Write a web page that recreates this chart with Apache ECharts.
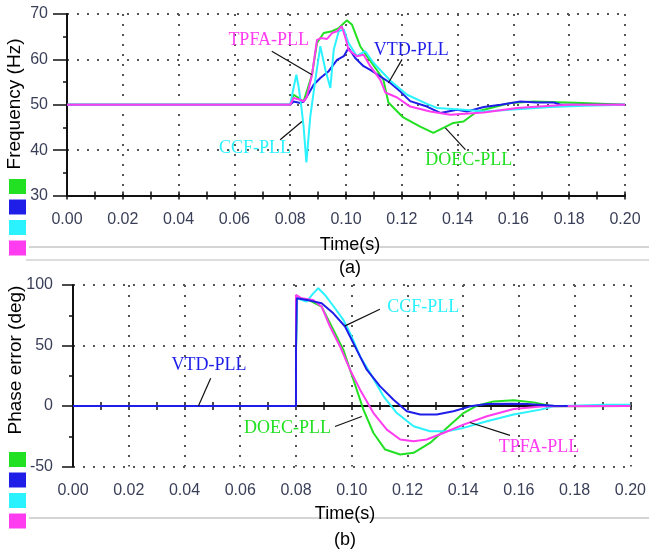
<!DOCTYPE html>
<html>
<head>
<meta charset="utf-8">
<script src="https://cdn.jsdelivr.net/npm/echarts@6/dist/echarts.min.js"></script>
<style>
  html, body { margin: 0; padding: 0; background: #fff; }
  #chart { width: 649px; height: 550px; }
</style>
</head>
<body>
<div id="chart"></div>
<script>
// series names / colours (same four PLLs in both plots)
var names  = ['DOEC-PLL', 'VTD-PLL', 'CCF-PLL', 'TPFA-PLL'];
var colors = ['#22e022', '#1e1ee8', '#2af2ff', '#ff3cf0'];

// (a) frequency, Hz  -- [time s, value]
var freqDOEC = [[0,50],[0.08,50],[0.0812,52.2],[0.083,51.5],[0.0848,50.7],[0.0878,56.6],[0.0896,63.6],
  [0.092,65.8],[0.095,66.2],[0.0974,66.9],[0.1003,68.6],[0.1021,67.7],[0.1051,62.9],[0.1075,60.7],
  [0.1111,57.6],[0.1134,55.5],[0.1152,50.5],[0.1205,47.2],[0.1266,45.2],[0.1313,43.8],[0.1349,44.9],
  [0.1385,46.0],[0.1421,46.3],[0.147,48.5],[0.1518,49.3],[0.159,50.4],[0.1673,50.7],[0.1793,50.5],
  [0.1847,50.4],[0.2,50]];
var freqVTD = [[0,50],[0.08,50],[0.0812,50.7],[0.0836,50.4],[0.0848,50.7],[0.086,51.8],[0.0884,54.4],
  [0.0908,55.9],[0.0938,57.4],[0.0968,59.9],[0.0992,60.7],[0.1009,62.5],[0.1033,60.3],[0.1063,58.5],
  [0.1087,57.7],[0.1159,54.8],[0.1195,52.9],[0.123,50.8],[0.129,49.6],[0.1338,48.2],[0.1398,48.9],
  [0.1434,48.5],[0.1494,49.5],[0.1554,50.0],[0.1625,50.7],[0.1685,50.5],[0.1745,50.5],[0.1769,50],[0.2,50]];
var freqCCF = [[0,50],[0.08,50],[0.0812,53.7],[0.0822,56.6],[0.083,54.0],[0.084,49.6],[0.0848,45.2],
  [0.0858,37.3],[0.0872,47.4],[0.089,55.5],[0.0908,62.9],[0.0926,57.7],[0.0944,53.7],[0.0956,62.1],
  [0.0974,66.2],[0.0992,66.6],[0.1009,63.6],[0.1039,60.7],[0.1069,61.8],[0.1099,59.2],[0.1159,55.3],
  [0.1219,52.2],[0.129,50.2],[0.1326,49.3],[0.1422,48.9],[0.1494,48.5],[0.1613,49.0],[0.1733,49.5],
  [0.1853,49.8],[0.2,50]];
var freqTPFA = [[0,50],[0.08,50],[0.0812,51.5],[0.0836,51.1],[0.0848,50.7],[0.086,51.8],[0.0878,56.6],
  [0.0896,64.3],[0.091,64.7],[0.0932,64.5],[0.095,65.8],[0.0968,66.2],[0.0985,67.3],[0.1,64.3],
  [0.1009,62.1],[0.1039,60.7],[0.1063,61.0],[0.1087,58.5],[0.1123,55.5],[0.1141,52.7],[0.1183,51.6],
  [0.123,49.6],[0.1302,48.5],[0.1374,47.8],[0.1494,48.3],[0.1613,49.3],[0.1733,49.8],[0.18,50],[0.2,50]];

// (b) phase error, deg
var phaseDOEC = [[0,0],[0.08,0],[0.08,45],[0.0803,89],[0.085,87.1],[0.0892,82.1],[0.0928,65.7],
  [0.097,46.4],[0.1006,21.7],[0.1042,-3.0],[0.1078,-22.3],[0.112,-36.0],[0.1174,-40.1],[0.1222,-38.7],
  [0.1281,-30.5],[0.1341,-18.1],[0.1401,-5.8],[0.1449,0.3],[0.1509,3.8],[0.1581,4.7],[0.1653,3.0],
  [0.1725,-0.3],[0.2,0]];
var phaseVTD = [[0,0],[0.08,0],[0.08,45],[0.0803,89],[0.0808,89],[0.085,87.1],[0.0892,84.9],
  [0.0934,76.6],[0.0976,65.7],[0.1018,46.4],[0.1054,30.0],[0.1102,16.2],[0.115,5.2],[0.1198,-4.4],
  [0.1246,-7.1],[0.1305,-7.1],[0.1365,-4.4],[0.1425,-0.3],[0.1485,1.6],[0.1569,1.9],[0.1629,1.6],
  [0.1725,0.3],[0.1775,0]];
var phaseCCF = [[0,0],[0.08,0],[0.08,45],[0.0803,89],[0.0814,88.2],[0.0838,86.3],[0.0862,93.1],
  [0.088,97.3],[0.0904,91.8],[0.094,80.8],[0.097,71.2],[0.1,57.4],[0.103,40.9],[0.1066,27.2],
  [0.1114,8.0],[0.1162,-5.8],[0.1222,-16.8],[0.1281,-20.9],[0.1341,-20.9],[0.1401,-18.1],
  [0.1485,-12.6],[0.1581,-7.1],[0.1677,-3.0],[0.1725,-0.3],[0.1904,1.0],[0.2,1.0]];
var phaseTPFA = [[0,0],[0.08,0],[0.08,91.8],[0.082,89],[0.0862,87.6],[0.0892,82.1],[0.0922,65.7],
  [0.0958,49.2],[0.0994,30.0],[0.103,13.5],[0.1078,-5.8],[0.1126,-19.5],[0.1174,-27.7],[0.1222,-29.1],
  [0.1269,-27.7],[0.1329,-22.3],[0.1401,-15.4],[0.1485,-8.5],[0.1581,-2.5],[0.1689,-0.3],[0.2,0]];

// callouts: label centre and leader line, in data units
var freqNotes = {
  'DOEC-PLL': {at: [0.1440, 37.7], from: [0.1428, 40.1], to: [0.1356, 44.9]},
  'VTD-PLL':  {at: [0.1234, 61.9], from: [0.1201, 60.0], to: [0.1152, 54.8]},
  'CCF-PLL':  {at: [0.0674, 40.3], from: [0.0764, 42.3], to: [0.0842, 46.3]},
  'TPFA-PLL': {at: [0.0723, 64.2], from: [0.0734, 61.8], to: [0.0878, 56.6]}
};
var phaseNotes = {
  'DOEC-PLL': {at: [0.0770, -18.8], from: [0.0940, -16.9], to: [0.1036, -8.7]},
  'VTD-PLL':  {at: [0.0488, 34.0],  from: [0.0494, 23.0],  to: [0.0450, 0]},
  'CCF-PLL':  {at: [0.1257, 81.4],  from: [0.1101, 79.9],  to: [0.0976, 66.2]},
  'TPFA-PLL': {at: [0.1672, -34.1], from: [0.1568, -24.3], to: [0.1424, -13.6]}
};

var tickFont = {color: '#3a3f58', fontSize: 16, fontFamily: 'Liberation Sans, Arial, sans-serif'};
var dots = {color: '#555', width: 2, type: [2, 8]};
var tickLine = {color: '#111', width: 1.5};

function xAxes(gridIndex) {
  var base = {
    type: 'value', gridIndex: gridIndex, min: 0, max: 0.2, interval: 0.02, position: 'bottom'
  };
  return [
    Object.assign({}, base, {
      axisLine: {lineStyle: {color: '#111', width: 2}},
      axisTick: {length: 4, lineStyle: tickLine},
      minorTick: {show: true, splitNumber: 2, length: 4, lineStyle: tickLine},
      axisLabel: Object.assign({margin: 16, formatter: function(v) { return v.toFixed(2); }}, tickFont),
      splitLine: {show: true, lineStyle: dots}
    }),
    Object.assign({}, base, {
      axisLine: {show: false},
      axisTick: {inside: true, length: 4, lineStyle: tickLine},
      minorTick: {show: true, splitNumber: 2, length: 4, lineStyle: tickLine},
      axisLabel: {show: false},
      splitLine: {show: false}
    })
  ];
}

function yAxes(gridIndex, min, max, step, tickLen, margin) {
  return [
    {
      type: 'value', gridIndex: gridIndex, min: min, max: max, interval: step,
      axisLine: {show: true, lineStyle: {color: '#111', width: 2}},
      axisTick: {show: true, length: tickLen, lineStyle: tickLine},
      axisLabel: Object.assign({margin: margin}, tickFont),
      splitLine: {show: true, lineStyle: dots}
    },
    {
      type: 'value', gridIndex: gridIndex, min: min, max: max, interval: step, offset: tickLen - 4,
      position: 'left',
      axisLine: {show: false}, axisTick: {show: false}, axisLabel: {show: false},
      minorTick: {show: true, splitNumber: 2, length: 4, lineStyle: tickLine},
      splitLine: {show: false}
    }
  ];
}

// order = drawing order (last one ends up on top)
function makeSeries(dataByName, order, notes, xIdx, yIdx) {
  return order.map(function(name) {
    var i = names.indexOf(name);
    var note = notes[name];
    return {
      name: name,
      type: 'line',
      xAxisIndex: xIdx,
      yAxisIndex: yIdx,
      data: dataByName[name],
      color: colors[i],
      symbol: 'none',
      lineStyle: {width: 2},
      markLine: {
        silent: true, symbol: 'none',
        lineStyle: {color: '#111', width: 1.2, type: 'solid'},
        label: {show: false},
        data: [[{coord: note.from}, {coord: note.to}]]
      },
      markPoint: {
        silent: true,
        symbol: 'circle', symbolSize: 1,
        itemStyle: {color: 'transparent'},
        label: {
          show: true, position: 'inside', formatter: name,
          color: colors[i], fontSize: 18, fontFamily: 'Liberation Serif, Times New Roman, serif'
        },
        data: [{coord: note.at}]
      }
    };
  });
}

var chart = echarts.init(document.getElementById('chart'));

var legendBase = {
  data: names, orient: 'vertical', left: 9, icon: 'rect',
  itemWidth: 17, itemHeight: 15, itemGap: 5.5, padding: 0,
  selectedMode: false, formatter: function() { return ''; },
  textStyle: {fontSize: 1}
};

function label(text, x, y, size) {
  return {type: 'text', x: x, y: y,
    style: {text: text, font: size + 'px Liberation Sans, Arial, sans-serif', fill: '#000',
      align: 'center', verticalAlign: 'middle'}};
}

var yTitleA = label('Frequency (Hz)', 15, 104, 19);
yTitleA.rotation = Math.PI / 2;
var yTitleB = label('Phase error (deg)', 16, 360, 19);
yTitleB.rotation = Math.PI / 2;

var freqData  = {'DOEC-PLL': freqDOEC, 'VTD-PLL': freqVTD, 'CCF-PLL': freqCCF, 'TPFA-PLL': freqTPFA};
var phaseData = {'DOEC-PLL': phaseDOEC, 'VTD-PLL': phaseVTD, 'CCF-PLL': phaseCCF, 'TPFA-PLL': phaseTPFA};

var option = {
  animation: false,
  backgroundColor: '#fff',
  grid: [
    {left: 67, top: 14, width: 558, height: 181.5},
    {left: 73, top: 285, width: 557.5, height: 181.5}
  ],
  legend: [
    Object.assign({}, legendBase, {top: 179}),
    Object.assign({}, legendBase, {top: 452})
  ],
  xAxis: xAxes(0).concat(xAxes(1)),
  yAxis: yAxes(0, 30, 70, 10, 14, 19).concat(yAxes(1, -50, 100, 50, 11, 20)),
  graphic: [
    yTitleA, yTitleB,
    {type: 'line', shape: {x1: 29, y1: 247, x2: 649, y2: 247}, style: {stroke: '#aaa', lineWidth: 1}},
    {type: 'line', shape: {x1: 26, y1: 260, x2: 649, y2: 260}, style: {stroke: '#bbb', lineWidth: 1}},
    {type: 'line', shape: {x1: 29, y1: 518, x2: 649, y2: 518}, style: {stroke: '#aaa', lineWidth: 1}},
    label('Time(s)', 350, 245, 18),
    label('(a)', 350, 268, 18),
    label('Time(s)', 345, 514, 18),
    label('(b)', 345, 540, 18)
  ],
  series: makeSeries(freqData, ['DOEC-PLL', 'VTD-PLL', 'CCF-PLL', 'TPFA-PLL'], freqNotes, 0, 0)
    .concat(makeSeries(phaseData, ['DOEC-PLL', 'CCF-PLL', 'TPFA-PLL', 'VTD-PLL'], phaseNotes, 2, 2))
};

chart.setOption(option);
</script>
</body>
</html>
